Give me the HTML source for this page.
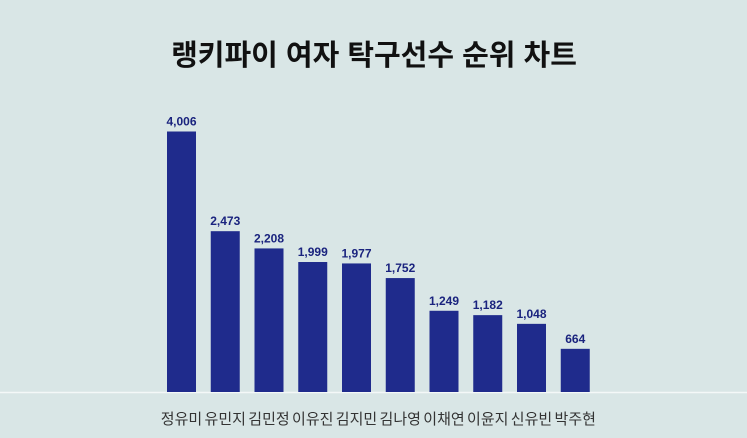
<!DOCTYPE html>
<html><head><meta charset="utf-8"><style>
html,body{margin:0;padding:0;background:#d9e6e6;}
svg{display:block;font-family:"Liberation Sans","Noto Sans CJK KR",sans-serif;}
</style></head><body>
<svg width="747" height="438" viewBox="0 0 747 438">
<rect x="0" y="0" width="747" height="438" fill="#d9e6e6"/>
<text x="374" y="65" text-anchor="middle" font-size="29" font-weight="bold" fill="#111">랭키파이 여자 탁구선수 순위 차트</text>
<line x1="0" y1="392.5" x2="747" y2="392.5" stroke="#f4f8f8" stroke-width="1.5"/>
<g id="bars"></g>
</svg>
<script>
const categories=["정유미","유민지","김민정","이유진","김지민","김나영","이채연","이윤지","신유빈","박주현"];
const values=[4006,2473,2208,1999,1977,1752,1249,1182,1048,664];
const valueLabels=["4,006","2,473","2,208","1,999","1,977","1,752","1,249","1,182","1,048","664"];
const baseY=392, pxPerUnit=(392-131.5)/4006;
const x0=181.5, step=43.75, bw=29;
const y=v=>baseY-v*pxPerUnit;
const xc=i=>x0+i*step;
const g=document.getElementById('bars');
const NS='http://www.w3.org/2000/svg';
values.forEach((v,i)=>{
  const r=document.createElementNS(NS,'rect');
  r.setAttribute('x',xc(i)-bw/2);r.setAttribute('y',y(v));
  r.setAttribute('width',bw);r.setAttribute('height',baseY-y(v));
  r.setAttribute('fill','#1f2b8c');
  
  
  g.appendChild(r);
  const t=document.createElementNS(NS,'text');
  t.setAttribute('x',xc(i));t.setAttribute('y',y(v)-6);
  t.setAttribute('text-anchor','middle');t.setAttribute('font-size','12');
  t.setAttribute('font-weight','bold');t.setAttribute('fill','#1a237e');
  t.textContent=valueLabels[i];
  
  
  g.appendChild(t);
  const c=document.createElementNS(NS,'text');
  c.setAttribute('x',xc(i));c.setAttribute('y',424);
  c.setAttribute('text-anchor','middle');c.setAttribute('font-size','15');
  c.setAttribute('fill','#333');
  c.textContent=categories[i];
  
  
  g.appendChild(c);
});
</script>
</body></html>
